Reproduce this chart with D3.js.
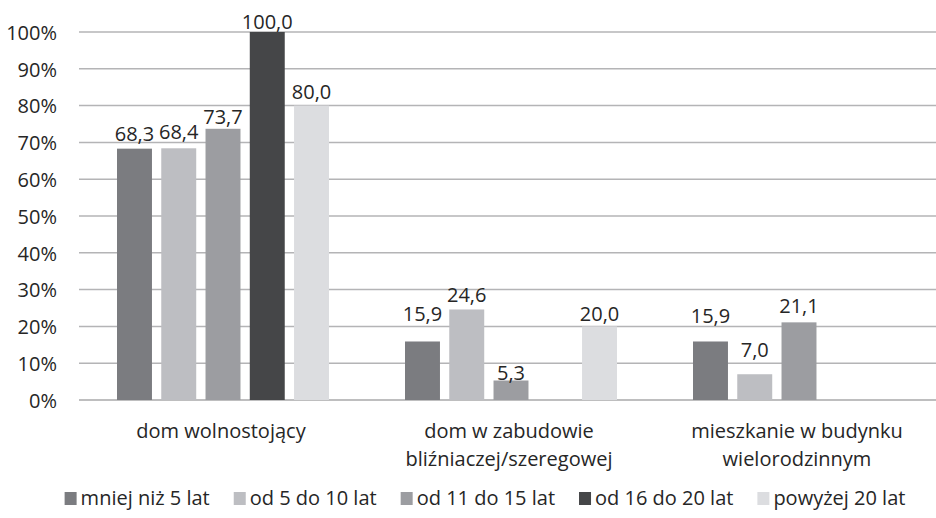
<!DOCTYPE html>
<html><head><meta charset="utf-8">
<script src="https://cdn.jsdelivr.net/npm/d3@7"></script>
<style>html,body{margin:0;padding:0;background:#fff;}svg{display:block;}</style>
</head><body>
<svg id="chart" width="936" height="518"></svg>
<script>
const categories = [["dom wolnostojący"], ["dom w zabudowie", "bliźniaczej/szeregowej"], ["mieszkanie w budynku", "wielorodzinnym"]];
const seriesNames = ["mniej niż 5 lat", "od 5 do 10 lat", "od 11 do 15 lat", "od 16 do 20 lat", "powyżej 20 lat"];
const s1 = [68.3, 15.9, 15.9];
const s2 = [68.4, 24.6, 7.0];
const s3 = [73.7, 5.3, 21.1];
const s4 = [100.0, null, null];
const s5 = [80.0, 20.0, null];
const yTicks = [0, 10, 20, 30, 40, 50, 60, 70, 80, 90, 100];
const colors = ["#7b7c80", "#bdbec2", "#9c9da1", "#454648", "#dcdde0"];
// label baseline gap above the bar top (as placed in the original)
const labelGap = [[8, 20, 18], [9, 7, 17], [4.5, 0, 9.5], [3, 0, 0], [7, 5, 0]];

const series = [s1, s2, s3, s4, s5];
const svg = d3.select("#chart");
const font = "'Open Sans', sans-serif";
const fs = 20;
const textColor = "#262626";

const x0 = d3.scaleBand().domain(d3.range(categories.length)).range([79, 943]).padding(0);
const x1 = d3.scaleBand().domain(d3.range(series.length)).range([38, 250]).paddingInner(0.21).paddingOuter(0);
const y = d3.scaleLinear().domain([0, 100]).range([400, 32]);

// gridlines
svg.append("g").selectAll("line").data(yTicks).join("line")
  .attr("x1", 79).attr("x2", 936)
  .attr("y1", d => y(d)).attr("y2", d => y(d))
  .attr("stroke", d => d === 0 ? "#a8a8aa" : "#b4b4b6").attr("stroke-width", 1.5);

// y axis labels
const yAxis = d3.axisLeft(y).tickValues(yTicks).tickFormat(d => d + "%").tickSize(0).tickPadding(0);
const ya = svg.append("g").attr("transform", "translate(57,0)").call(yAxis);
ya.select(".domain").remove();
ya.selectAll("text").attr("font-family", font).attr("font-size", fs).attr("fill", textColor).attr("dy", "0.36em");

// bars
series.forEach((s, si) => {
  const g = svg.append("g");
  s.forEach((v, ci) => {
    if (v === null) return;
    const bx = x0(ci) + x1(si);
    g.append("rect").attr("x", bx).attr("width", x1.bandwidth())
      .attr("y", y(v)).attr("height", y(0) - y(v)).attr("fill", colors[si]);
    g.append("text").attr("x", bx + x1.bandwidth() / 2).attr("y", y(v) - labelGap[si][ci])
      .attr("text-anchor", "middle").attr("font-family", font).attr("font-size", fs).attr("fill", textColor)
      .text(d3.format(".1f")(v).replace(".", ","));
  });
});

// category labels
categories.forEach((lines, ci) => {
  const t = svg.append("text").attr("text-anchor", "middle").attr("font-family", font).attr("font-size", fs).attr("fill", textColor);
  lines.forEach((l, li) => {
    t.append("tspan").attr("x", x0(ci) + x0.bandwidth() / 2 - 2).attr("y", 437.5 + li * 28).text(l);
  });
});

// legend
const lg = svg.append("g");
const items = seriesNames.map((n, i) => {
  const g = lg.append("g");
  g.append("rect").attr("x", 0).attr("y", -13).attr("width", 12).attr("height", 13).attr("fill", colors[i]);
  const t = g.append("text").attr("x", 16).attr("y", 0).attr("font-family", font).attr("font-size", fs).attr("fill", textColor).text(n);
  return {g, w: 16 + t.node().getComputedTextLength()};
});
const gap = 24;
const total = d3.sum(items, d => d.w) + gap * (items.length - 1);
let cx = 485 - total / 2;
items.forEach(it => { it.g.attr("transform", `translate(${cx},505)`); cx += it.w + gap; });
</script>
</body></html>
